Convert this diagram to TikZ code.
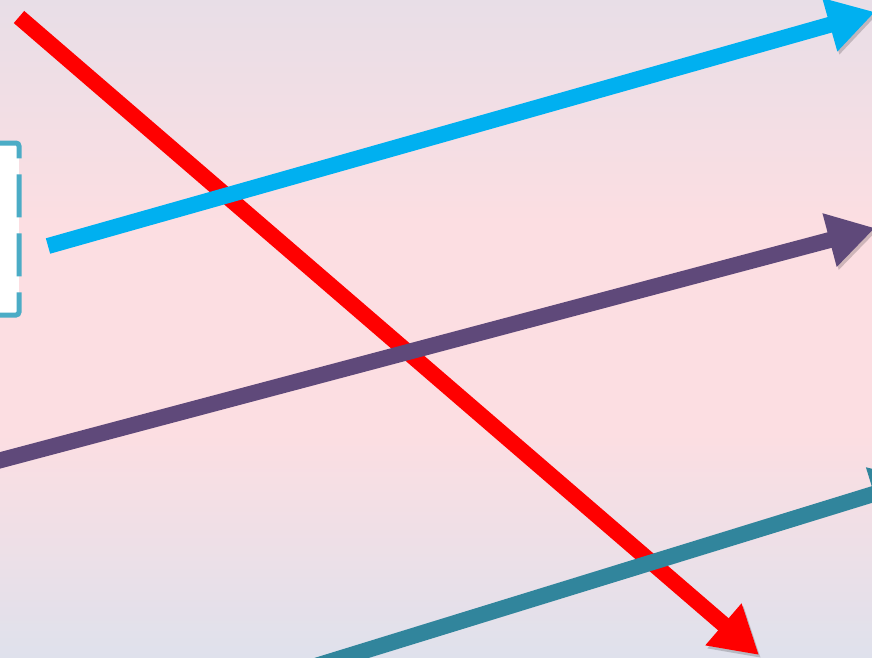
\documentclass[tikz,border=0pt]{standalone}
\usepackage{tikz}
\usetikzlibrary{arrows.meta}

\definecolor{bgtop}{HTML}{E8DEE7}
\definecolor{bgmid}{HTML}{FCDEE2}
\definecolor{bgbot}{HTML}{DFE1EC}
\definecolor{redline}{HTML}{FF0000}
\definecolor{cyanline}{HTML}{00B0F0}
\definecolor{purpleline}{HTML}{5F497A}
\definecolor{tealline}{HTML}{31859C}
\definecolor{boxline}{HTML}{4BACC6}

\pgfdeclareverticalshading{bgshade}{100bp}{color(0bp)=(bgbot); color(25bp)=(bgbot); color(42bp)=(bgmid); color(58bp)=(bgmid); color(75bp)=(bgtop); color(100bp)=(bgtop)}

\begin{document}
\begin{tikzpicture}[
                x=1pt, y=-1pt,
                flow/.style={line width=16pt, -{Triangle[length=47pt,width=52pt]},
                    preaction={draw=black, opacity=0.18, transform canvas={shift={(2pt,-3pt)}}}},
                dashbox/.style={line width=5pt, draw=boxline, rounded corners=3pt, dash pattern=on 43pt off 16pt}
            ]
                \useasboundingbox (0,0) rectangle (872,657);
                \clip (0,0) rectangle (872,657);
                \shade[shading=bgshade] (0,0) rectangle (872,657);

                % dashed box at the left edge
                \fill[white] (-10,143) rectangle (19,315);
                \draw[dashbox] (-10,143) -- (19,143) -- (19,315) -- (-10,315);

                % end points of the arrows
                \coordinate (redA) at (19,17);
                \coordinate (redB) at (759,655);
                \coordinate (cyanA) at (48,246);
                \coordinate (cyanB) at (875,12);
                \coordinate (purpleA) at (-10,463);
                \coordinate (purpleB) at (875,228);
                \coordinate (tealA) at (270,680);
                \coordinate (tealB) at (919,480);

                \draw[flow, redline] (redA) -- (redB);
                \draw[flow, cyanline] (cyanA) -- (cyanB);
                \draw[flow, purpleline] (purpleA) -- (purpleB);
                \draw[flow, tealline] (tealA) -- (tealB);
            \end{tikzpicture}
\end{document}
